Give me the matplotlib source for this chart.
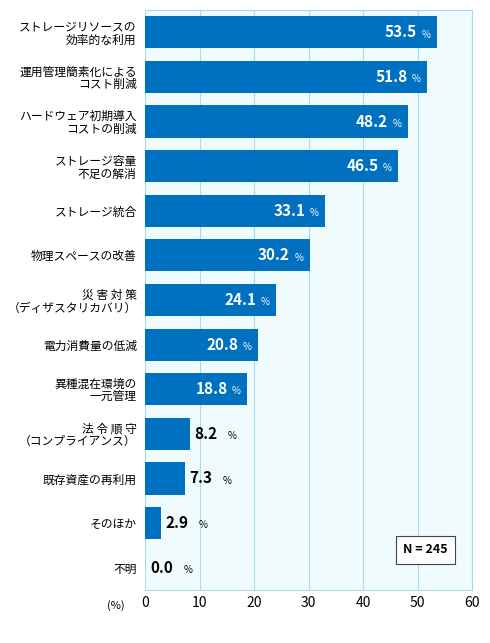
import matplotlib.pyplot as plt

plt.rcParams['font.family'] = ['Noto Sans CJK JP', 'DejaVu Sans']

labels = ["ストレージリソースの\n効率的な利用", "運用管理簡素化による\nコスト削減", "ハードウェア初期導入\nコストの削減",
          "ストレージ容量\n不足の解消", "ストレージ統合", "物理スペースの改善", "災 害 対 策\n（ディザスタリカバリ）",
          "電力消費量の低減", "異種混在環境の\n一元管理", "法 令 順 守\n（コンプライアンス）", "既存資産の再利用",
          "そのほか", "不明"]
values = [53.5, 51.8, 48.2, 46.5, 33.1, 30.2, 24.1, 20.8, 18.8, 8.2, 7.3, 2.9, 0.0]
xticks = [0, 10, 20, 30, 40, 50, 60]

fig = plt.figure(figsize=(4.90, 6.43), dpi=100)
ax = fig.add_axes([145/490, 53/643, 327/490, 580/643])
ax.set_facecolor('#effbfd')
ypos = list(range(len(values)))
ax.barh(ypos, values, height=0.72, color='#0070c0', zorder=3)
ax.set_xlim(0, 60)
ax.set_ylim(len(values) - 0.5, -0.5)
ax.set_xticks(xticks)
ax.tick_params(axis='x', length=0, labelsize=10, pad=4)
ax.set_yticks(ypos)
ax.set_yticklabels(labels, fontsize=8.5, linespacing=1.0)
ax.tick_params(axis='y', length=0, pad=6)
for lbl in ax.get_yticklabels():
    lbl.set_horizontalalignment('right')
for x in xticks[1:]:
    ax.axvline(x, color='#a8dcec', lw=0.8, zorder=1)
for s in ax.spines.values():
    s.set_color('#a8dcec')
    s.set_linewidth(0.8)

for y, v in zip(ypos, values):
    if v > 15:
        ax.text(v - 3.6, y, f"{v:.1f}", ha='right', va='center', color='white', fontsize=11, fontweight='bold', zorder=4)
        ax.text(v - 1.2, y + 0.05, "%", ha='right', va='center', color='white', fontsize=7, zorder=4)
    else:
        ax.text(v + 0.9, y, f"{v:.1f}", ha='left', va='center', color='black', fontsize=11, fontweight='bold', zorder=4)
        ax.text(v + 7.0, y + 0.05, "%", ha='left', va='center', color='black', fontsize=7, zorder=4)

ax.text(51.5, 11.6, "N = 245", ha='center', va='center', fontsize=9, fontweight='bold',
        bbox=dict(boxstyle='square,pad=0.6', fc='white', ec='#444444', lw=0.8), zorder=5)
fig.text(125/490, 1 - 606/643, "(%)", ha='right', va='center', fontsize=8)

fig.savefig('out.png', dpi=100)
